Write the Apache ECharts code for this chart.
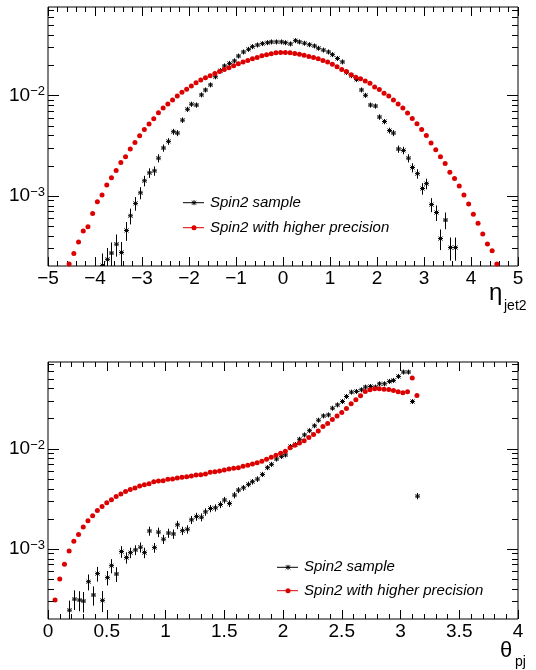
<!DOCTYPE html>
<html>
<head>
<meta charset="utf-8">
<script src="https://cdn.jsdelivr.net/npm/echarts@6/dist/echarts.min.js"></script>
<style>
html, body { margin: 0; padding: 0; background: #fff; }
#chart { width: 536px; height: 670px; }
</style>
</head>
<body>
<div id="chart"></div>
<script>
// eta_jet2 panel (bin centres, contents, errors)
var etaRedX = [-4.55,-4.45,-4.35,-4.25,-4.15,-4.05,-3.95,-3.85,-3.75,-3.65,-3.55,-3.45,-3.35,-3.25,-3.15,-3.05,-2.95,-2.85,-2.75,-2.65,-2.55,-2.45,-2.35,-2.25,-2.15,-2.05,-1.95,-1.85,-1.75,-1.65,-1.55,-1.45,-1.35,-1.25,-1.15,-1.05,-0.95,-0.85,-0.75,-0.65,-0.55,-0.45,-0.35,-0.25,-0.15,-0.05,
  0.05,0.15,0.25,0.35,0.45,0.55,0.65,0.75,0.85,0.95,1.05,1.15,1.25,1.35,1.45,1.55,1.65,1.75,1.85,1.95,2.05,2.15,2.25,2.35,2.45,2.55,2.65,2.75,2.85,2.95,3.05,3.15,3.25,3.35,3.45,3.55,3.65,3.75,3.85,3.95,4.05,4.15,4.25,4.35,4.45,4.55];
var etaRedY = [2.09e-4,2.67e-4,3.47e-4,4.47e-4,4.93e-4,6.65e-4,8.71e-4,1.02e-3,1.28e-3,1.51e-3,1.79e-3,2.14e-3,2.45e-3,2.93e-3,3.39e-3,3.95e-3,4.57e-3,5.17e-3,5.85e-3,6.71e-3,7.47e-3,8.19e-3,8.98e-3,9.85e-3,1.07e-2,1.15e-2,1.24e-2,1.33e-2,1.42e-2,1.50e-2,1.57e-2,1.65e-2,1.73e-2,1.81e-2,1.88e-2,1.97e-2,2.06e-2,2.14e-2,2.22e-2,2.31e-2,2.38e-2,2.47e-2,2.53e-2,2.59e-2,2.65e-2,2.67e-2,
  2.67e-2,2.65e-2,2.61e-2,2.57e-2,2.51e-2,2.44e-2,2.38e-2,2.31e-2,2.22e-2,2.14e-2,2.04e-2,1.92e-2,1.81e-2,1.73e-2,1.60e-2,1.51e-2,1.46e-2,1.39e-2,1.32e-2,1.21e-2,1.14e-2,1.05e-2,9.85e-3,8.98e-3,8.19e-3,7.47e-3,6.65e-3,5.89e-3,5.21e-3,4.57e-3,3.98e-3,3.36e-3,2.88e-3,2.45e-3,2.10e-3,1.71e-3,1.49e-3,1.25e-3,1.02e-3,8.26e-4,6.56e-4,5.33e-4,4.17e-4,3.31e-4,2.84e-4,2.09e-4];

var etaBlkX = [-3.85,-3.75,-3.65,-3.55,-3.45,-3.35,-3.25,-3.15,-3.05,-2.95,-2.85,-2.75,-2.65,-2.55,-2.45,-2.35,-2.25,-2.15,-2.05,-1.95,-1.85,-1.75,-1.65,-1.55,-1.45,-1.35,-1.25,-1.15,-1.05,-0.95,-0.85,-0.75,-0.65,-0.55,-0.45,-0.35,-0.25,-0.15,-0.05,
  0.05,0.15,0.25,0.35,0.45,0.55,0.65,0.75,0.85,0.95,1.05,1.15,1.25,1.35,1.45,1.55,1.65,1.75,1.85,1.95,2.05,2.15,2.25,2.35,2.45,2.55,2.65,2.75,2.85,2.95,3.05,3.15,3.25,3.35,3.45,3.55,3.65];
var etaBlkY = [2.02e-4,2.33e-4,2.69e-4,3.30e-4,2.73e-4,4.52e-4,6.32e-4,8.40e-4,1.07e-3,1.41e-3,1.69e-3,1.77e-3,2.37e-3,2.99e-3,3.48e-3,4.34e-3,4.21e-3,5.66e-3,7.26e-3,8.16e-3,8.00e-3,1.01e-2,1.13e-2,1.27e-2,1.53e-2,1.76e-2,1.96e-2,2.08e-2,2.20e-2,2.46e-2,2.70e-2,2.87e-2,3.05e-2,3.17e-2,3.27e-2,3.34e-2,3.40e-2,3.40e-2,3.40e-2,
  3.34e-2,3.25e-2,3.50e-2,3.40e-2,3.30e-2,3.19e-2,3.10e-2,2.94e-2,2.82e-2,2.70e-2,2.54e-2,2.33e-2,2.15e-2,1.69e-2,1.57e-2,1.44e-2,1.13e-2,1.00e-2,8.00e-3,7.82e-3,6.08e-3,5.48e-3,4.46e-3,4.21e-3,2.92e-3,2.83e-3,2.37e-3,1.91e-3,1.66e-3,1.18e-3,1.32e-3,8.17e-4,6.81e-4,3.75e-4,5.73e-4,3.05e-4,3.05e-4];
var etaBlkErr = [6.4e-5,6.9e-5,7.4e-5,8.2e-5,7.4e-5,9.6e-5,1.13e-4,1.30e-4,1.47e-4,1.69e-4,1.85e-4,1.89e-4,2.19e-4,2.46e-4,2.65e-4,2.96e-4,2.92e-4,3.39e-4,3.83e-4,4.06e-4,4.02e-4,4.5e-4,4.8e-4,5.1e-4,5.6e-4,6.0e-4,6.3e-4,6.5e-4,6.7e-4,7.1e-4,7.4e-4,7.6e-4,7.9e-4,8.0e-4,8.1e-4,8.2e-4,8.3e-4,8.3e-4,8.3e-4,
  8.2e-4,8.1e-4,8.4e-4,8.3e-4,8.2e-4,8.0e-4,7.9e-4,7.7e-4,7.6e-4,7.4e-4,7.2e-4,6.9e-4,6.6e-4,5.9e-4,5.6e-4,5.4e-4,4.8e-4,4.5e-4,4.0e-4,4.0e-4,3.5e-4,3.3e-4,3.0e-4,2.9e-4,2.4e-4,2.4e-4,2.2e-4,2.0e-4,1.8e-4,1.55e-4,1.6e-4,1.3e-4,1.2e-4,8.7e-5,1.08e-4,7.9e-5,7.9e-5];

// theta panel
var thRedX = [0.06,0.10,0.14,0.18,0.22,0.26,0.30,0.34,0.38,0.42,0.46,0.50,0.54,0.58,0.62,0.66,0.70,0.74,0.78,0.82,0.86,0.90,0.94,0.98,1.02,1.06,1.10,1.14,1.18,1.22,1.26,1.30,1.34,1.38,1.42,1.46,1.50,1.54,1.58,1.62,1.66,1.70,1.74,1.78,1.82,1.86,1.90,1.94,1.98,2.02,2.06,2.10,2.14,2.18,2.22,2.26,2.30,2.34,2.38,2.42,2.46,2.50,2.54,2.58,2.62,2.66,2.70,2.74,2.78,2.82,2.86,2.90,2.94,2.98,3.02,3.06,3.10,3.14];
var thRedY = [3.09e-4,5.01e-4,7.03e-4,9.55e-4,1.19e-3,1.39e-3,1.65e-3,1.91e-3,2.14e-3,2.42e-3,2.65e-3,2.88e-3,3.09e-3,3.34e-3,3.52e-3,3.74e-3,3.92e-3,4.04e-3,4.23e-3,4.36e-3,4.47e-3,4.68e-3,4.75e-3,4.79e-3,4.94e-3,4.97e-3,5.09e-3,5.17e-3,5.25e-3,5.33e-3,5.45e-3,5.50e-3,5.58e-3,5.80e-3,5.89e-3,5.98e-3,6.12e-3,6.26e-3,6.36e-3,6.46e-3,6.66e-3,6.81e-3,7.03e-3,7.24e-3,7.47e-3,7.82e-3,8.19e-3,8.58e-3,8.98e-3,9.40e-3,1.02e-2,1.08e-2,1.14e-2,1.20e-2,1.29e-2,1.38e-2,1.50e-2,1.66e-2,1.78e-2,1.95e-2,2.12e-2,2.29e-2,2.51e-2,2.80e-2,3.07e-2,3.36e-2,3.72e-2,3.86e-2,3.95e-2,3.95e-2,3.92e-2,3.89e-2,3.80e-2,3.69e-2,3.60e-2,3.69e-2,5.05e-2,3.39e-2];

var thBlkX = [0.18,0.22,0.26,0.30,0.34,0.38,0.42,0.46,0.50,0.54,0.58,0.62,0.66,0.70,0.74,0.78,0.82,0.86,0.90,0.94,0.98,1.02,1.06,1.10,1.14,1.18,1.22,1.26,1.30,1.34,1.38,1.42,1.46,1.50,1.54,1.58,1.62,1.66,1.70,1.74,1.78,1.82,1.86,1.90,1.94,1.98,2.02,2.06,2.10,2.14,2.18,2.22,2.26,2.30,2.34,2.38,2.42,2.46,2.50,2.54,2.58,2.62,2.66,2.70,2.74,2.78,2.82,2.86,2.90,2.94,2.98,3.02,3.06,3.10,3.14];
var thBlkY = [2.45e-4,3.16e-4,3.09e-4,3.02e-4,4.71e-4,3.47e-4,5.67e-4,3.07e-4,5.17e-4,6.81e-4,5.62e-4,9.40e-4,8.19e-4,9.18e-4,9.77e-4,1.04e-3,9.18e-4,1.51e-3,1.03e-3,1.47e-3,1.25e-3,1.44e-3,1.41e-3,1.74e-3,1.52e-3,1.57e-3,1.95e-3,2.10e-3,2.07e-3,2.34e-3,2.53e-3,2.57e-3,2.77e-3,3.07e-3,2.84e-3,3.44e-3,3.86e-3,4.07e-3,4.40e-3,4.68e-3,4.97e-3,5.53e-3,6.46e-3,6.97e-3,7.88e-3,8.38e-3,8.65e-3,1.05e-2,1.10e-2,1.24e-2,1.37e-2,1.51e-2,1.69e-2,1.92e-2,2.12e-2,2.17e-2,2.53e-2,2.73e-2,2.95e-2,3.31e-2,3.66e-2,3.72e-2,3.86e-2,4.11e-2,4.17e-2,4.11e-2,4.43e-2,4.43e-2,4.68e-2,4.79e-2,5.25e-2,5.80e-2,5.80e-2,2.95e-2,3.36e-3];
var thBlkErr = [6.0e-5,7.0e-5,7.0e-5,7.0e-5,8.5e-5,7.5e-5,9.5e-5,7.3e-5,8.5e-5,1.1e-4,9.5e-5,1.25e-4,1.05e-4,1.1e-4,1.1e-4,1.2e-4,1.1e-4,1.55e-4,1.15e-4,1.6e-4,1.3e-4,1.5e-4,1.5e-4,1.65e-4,1.45e-4,1.5e-4,1.8e-4,1.9e-4,1.9e-4,2.0e-4,2.1e-4,2.1e-4,2.2e-4,2.3e-4,2.2e-4,2.5e-4,2.6e-4,2.7e-4,2.8e-4,2.9e-4,3.0e-4,3.2e-4,3.4e-4,3.6e-4,3.8e-4,3.9e-4,4.0e-4,4.4e-4,4.5e-4,4.8e-4,5.0e-4,5.3e-4,5.6e-4,6.0e-4,6.3e-4,6.4e-4,6.9e-4,7.2e-4,7.5e-4,8.0e-4,8.4e-4,8.5e-4,8.7e-4,8.9e-4,9.0e-4,8.9e-4,9.3e-4,9.3e-4,9.5e-4,9.7e-4,1.0e-3,1.07e-3,1.07e-3,7.5e-4,2.4e-4];

var legendNames = ['Spin2 sample', 'Spin2 with higher precision'];

var FONT = '"Liberation Sans", Arial, Helvetica, sans-serif';
var RED = '#dc0000';

var chart = echarts.init(document.getElementById('chart'));

function pairs(xs, ys) {
    return xs.map(function (x, i) { return [x, ys[i]]; });
}
function triples(xs, ys, es) {
    return xs.map(function (x, i) { return [x, ys[i], es[i]]; });
}

// tick positions 1..9 x 10^n inside [lo, hi]
function logTicks(xref, lo, hi) {
    var out = [];
    for (var d = -4; d <= -1; d++) {
        for (var m = 1; m <= 9; m++) {
            var v = m * Math.pow(10, d);
            if (v > lo * 1.001 && v < hi) out.push([xref, v, m === 1 ? 11 : 6]);
        }
    }
    return out;
}

function yTickItem(params, api) {
    var cs = params.coordSys;
    var y = Math.round(api.coord([api.value(0), api.value(1)])[1]) + 0.5;
    var len = api.value(2);
    var s = { stroke: '#000', lineWidth: 1 };
    return {
        type: 'group',
        children: [
            { type: 'line', shape: { x1: cs.x, y1: y, x2: cs.x + len, y2: y }, style: s },
            { type: 'line', shape: { x1: cs.x + cs.width - len, y1: y, x2: cs.x + cs.width, y2: y }, style: s }
        ]
    };
}

function starLines(x, y, s) {
    return [
        { type: 'line', shape: { x1: x - 2.5, y1: y, x2: x + 2.5, y2: y }, style: s },
        { type: 'line', shape: { x1: x, y1: y - 2.5, x2: x, y2: y + 2.5 }, style: s },
        { type: 'line', shape: { x1: x - 2, y1: y - 2, x2: x + 2, y2: y + 2 }, style: s },
        { type: 'line', shape: { x1: x - 2, y1: y + 2, x2: x + 2, y2: y - 2 }, style: s }
    ];
}

function errItem(params, api) {
    var x = api.value(0), v = api.value(1), e = api.value(2);
    var p = api.coord([x, v]);
    var hi = api.coord([x, v + e])[1];
    var lo = v - e > 0 ? api.coord([x, v - e])[1] : p[1] + 500;
    var s = { stroke: '#000', lineWidth: 1 };
    var px = Math.round(p[0]) + 0.5;
    return {
        type: 'group',
        children: [{ type: 'line', shape: { x1: px, y1: lo, x2: px, y2: hi }, style: s }]
            .concat(starLines(px, p[1], s))
    };
}

function logLabel(v) {
    var e = Math.log10(v);
    var r = Math.round(e);
    if (Math.abs(e - r) > 1e-6) return '';
    return '{b|10}{s|' + (r < 0 ? '\u2212' + (-r) : r) + '}';
}

var yLabel = {
    formatter: logLabel,
    margin: 3,
    rich: {
        b: { fontSize: 19, fontFamily: FONT, color: '#000', lineHeight: 20 },
        s: { fontSize: 13, fontFamily: FONT, color: '#000', lineHeight: 13, verticalAlign: 'top' }
    }
};

function xAxisOf(grid, min, max, step, pos, labels) {
    return {
        gridIndex: grid, type: 'value', min: min, max: max, interval: step,
        position: pos,
        axisLine: { show: false },
        axisTick: { show: true, inside: true, length: 9, lineStyle: { color: '#000', width: 1 } },
        minorTick: { show: true, splitNumber: 5, length: 5, lineStyle: { color: '#000', width: 1 } },
        splitLine: { show: false },
        axisLabel: {
            show: labels, fontSize: 19, fontFamily: FONT, color: '#000', margin: 3,
            formatter: function (v) { return String(v).replace('-', '\u2212'); }
        }
    };
}

function yAxisOf(grid, max) {
    return {
        gridIndex: grid, type: 'log', logBase: 10, min: 2e-4, max: max,
        axisLine: { show: false },
        axisTick: { show: false },
        splitLine: { show: false },
        axisLabel: yLabel
    };
}

function legendGraphics(x0, y0, y1) {
    var s = { stroke: '#000', lineWidth: 1 };
    var txt = function (t, y) {
        return {
            type: 'text', x: x0 + 27, y: y,
            style: { text: t, fontSize: 15, fontStyle: 'italic', fontFamily: FONT, fill: '#000', verticalAlign: 'middle' }
        };
    };
    var cx = x0 + 11;
    return [
        { type: 'line', shape: { x1: x0, y1: y0, x2: x0 + 21, y2: y0 }, style: s },
        { type: 'group', children: starLines(cx, y0, s) },
        txt(legendNames[0], y0),
        { type: 'line', shape: { x1: x0, y1: y1, x2: x0 + 21, y2: y1 }, style: { stroke: RED, lineWidth: 1 } },
        { type: 'circle', shape: { cx: cx, cy: y1, r: 2.5 }, style: { fill: RED } },
        txt(legendNames[1], y1)
    ];
}

var redStyle = { color: RED, opacity: 1 };

var option = {
    animation: false,
    backgroundColor: '#fff',
    grid: [
        { left: 48, top: 7, width: 470, height: 259, show: true, borderColor: '#000', borderWidth: 1 },
        { left: 48, top: 362, width: 470, height: 257, show: true, borderColor: '#000', borderWidth: 1 }
    ],
    xAxis: [
        xAxisOf(0, -5, 5, 1, 'bottom', true),
        xAxisOf(0, -5, 5, 1, 'top', false),
        xAxisOf(1, 0, 4, 0.5, 'bottom', true),
        xAxisOf(1, 0, 4, 0.5, 'top', false)
    ],
    yAxis: [yAxisOf(0, 0.0757), yAxisOf(1, 0.0731)],
    series: [
        { type: 'custom', xAxisIndex: 0, yAxisIndex: 0, silent: true, renderItem: yTickItem, data: logTicks(-5, 2e-4, 0.0757), z: 5 },
        { type: 'custom', xAxisIndex: 2, yAxisIndex: 1, silent: true, renderItem: yTickItem, data: logTicks(0, 2e-4, 0.0731), z: 5 },
        { name: legendNames[0], type: 'custom', xAxisIndex: 0, yAxisIndex: 0, clip: true, renderItem: errItem, data: triples(etaBlkX, etaBlkY, etaBlkErr), z: 2 },
        { name: legendNames[1], type: 'scatter', xAxisIndex: 0, yAxisIndex: 0, symbol: 'circle', symbolSize: 5, itemStyle: redStyle, data: pairs(etaRedX, etaRedY), z: 3 },
        { name: legendNames[0], type: 'custom', xAxisIndex: 2, yAxisIndex: 1, clip: true, renderItem: errItem, data: triples(thBlkX, thBlkY, thBlkErr), z: 2 },
        { name: legendNames[1], type: 'scatter', xAxisIndex: 2, yAxisIndex: 1, symbol: 'circle', symbolSize: 5, itemStyle: redStyle, data: pairs(thRedX, thRedY), z: 3 }
    ],
    graphic: legendGraphics(183, 202.7, 227.7).concat(legendGraphics(277, 567.3, 590.7)).concat([
        { type: 'text', x: 489, y: 281, style: { text: '\u03b7', fontSize: 24, fontFamily: FONT, fill: '#000' } },
        { type: 'text', x: 504, y: 299, style: { text: 'jet2', fontSize: 14, fontFamily: FONT, fill: '#000' } },
        { type: 'text', x: 500, y: 640, style: { text: '\u03b8', fontSize: 22, fontFamily: FONT, fill: '#000' } },
        { type: 'text', x: 515, y: 655, style: { text: 'pj', fontSize: 14, fontFamily: FONT, fill: '#000' } }
    ])
};

chart.setOption(option);
</script>
</body>
</html>
